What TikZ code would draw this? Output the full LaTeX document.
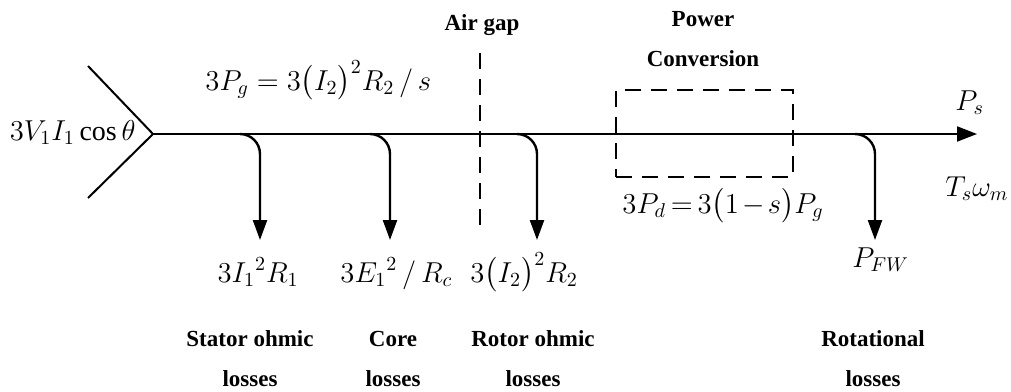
\documentclass[tikz,border=0pt]{standalone}
\usepackage{amsmath}
\usepackage{fontspec}
\setmainfont{Liberation Serif}
\usetikzlibrary{arrows.meta}

\begin{document}
\begin{tikzpicture}[x=0.5pt, y=-0.5pt,
  flow/.style={line width=1pt, -{Triangle[length=10pt,width=7.5pt]}},
  lossarrow/.style={line width=1.2pt, rounded corners=10pt, -{Triangle[length=10pt,width=7pt]}},
  gapline/.style={line width=0.7pt, dash pattern=on 8pt off 5pt},
  eq/.style={font=\fontsize{14}{17}\selectfont, inner sep=0pt},
  lbl/.style={font=\fontsize{11.5}{20}\selectfont\bfseries, align=center, inner sep=0pt}]
  \useasboundingbox (0,0) rectangle (1011,391);

  % Input power
  \coordinate (vtx) at (153,134);
  \coordinate (armtop) at (88,66);
  \coordinate (armbot) at (88,198);
  \draw[line width=1pt] (armtop) -- (vtx) -- (armbot);
  \node[eq, anchor=base east] (pin) at (136,140) {$3V_1I_1\cos\theta$};

  % Main power flow
  \coordinate (out) at (977,134);
  \draw[flow] (vtx) -- (out);
  \node[eq, anchor=base west] (pg) at (205,90) {$3P_g = 3\bigl(I_2\bigr)^2 R_2\,/\,s$};
  \node[eq, anchor=base west] (ps) at (955,110) {$P_s$};
  \node[eq, anchor=base west] (tw) at (945,196) {$T_s\omega_m$};

  % Loss branches
  \foreach \x/\n in {260/1, 390/2, 537/3, 875/4} {
    \coordinate (b\n) at (\x-20,134);
    \coordinate (t\n) at (\x,240);
    \draw[lossarrow] (b\n) -| (t\n);
  }
  \node[eq, anchor=base] (l1) at (258,282) {$3{I_1}^2R_1$};
  \node[eq, anchor=base west] (l2) at (340,282) {$3{E_1}^2\,/\,R_c$};
  \node[eq, anchor=base west] (l3) at (470,282) {$3\bigl(I_2\bigr)^2 R_2$};
  \node[eq, anchor=base west] (l4) at (852,267) {$P_{FW}$};

  % Air gap
  \coordinate (gaptop) at (480,53);
  \coordinate (gapbot) at (480,233);
  \draw[gapline] (gaptop) -- (gapbot);
  \node[lbl, anchor=base] (gap) at (482,31) {Air gap};

  % Power conversion
  \node[draw, gapline, minimum width=88.5pt, minimum height=43.5pt, inner sep=0pt] (conv) at (704.5,133.5) {};
  \node[lbl, anchor=base] (pc) at (703,66) {Power\\Conversion};
  \node[eq, anchor=base west] (pd) at (622,213)
    {$\medmuskip=2mu \thickmuskip=3mu 3P_d = 3\bigl(1-s\bigr)P_g$};

  % Loss names (base = last line)
  \node[lbl, anchor=base] (n1) at (250,386) {Stator ohmic\\losses};
  \node[lbl, anchor=base] (n2) at (393,386) {Core\\losses};
  \node[lbl, anchor=base] (n3) at (533,386) {Rotor ohmic\\losses};
  \node[lbl, anchor=base] (n4) at (873,386) {Rotational\\losses};
\end{tikzpicture}
\end{document}
